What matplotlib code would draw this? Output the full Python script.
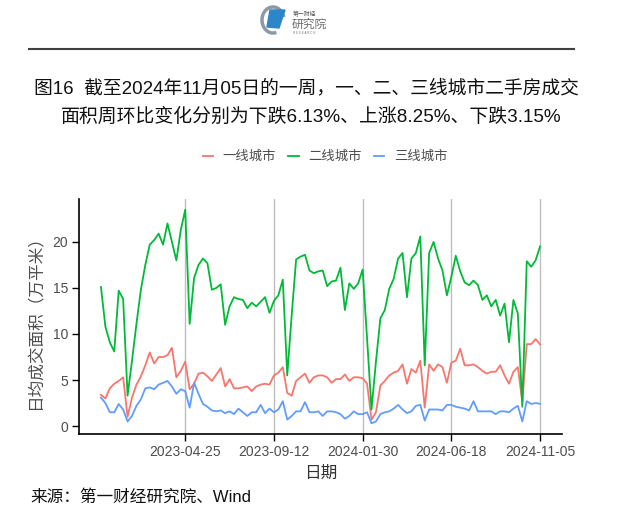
import pandas as pd
import matplotlib
matplotlib.use("Agg")
import matplotlib.pyplot as plt
from matplotlib.patches import Arc, Polygon

plt.rcParams['font.family'] = ['Liberation Sans', 'Noto Sans CJK SC', 'DejaVu Sans']

# weekly dates, 2022-12-13 .. 2024-11-05
dates = pd.date_range("2022-12-13", periods=100, freq="7D")

tier1 = [3.4, 3.0, 4.1, 4.6, 4.9, 5.3, 1.0, 3.1, 4.5, 5.4, 6.6, 8.0, 6.8, 7.5, 7.5, 7.7, 8.5, 5.3, 6.0, 7.0,
         4.0, 4.6, 5.7, 5.8, 5.4, 4.9, 5.6, 6.3, 4.3, 5.1, 4.1, 4.1, 4.2, 4.3, 3.8, 4.3, 4.5, 4.6, 4.5, 5.5,
         5.8, 6.4, 3.6, 3.3, 4.9, 5.3, 5.7, 4.7, 5.3, 5.5, 5.5, 5.3, 4.7, 5.1, 5.1, 5.6, 4.9, 5.3, 5.3, 5.2,
         4.6, 0.7, 1.5, 4.4, 4.9, 5.5, 5.8, 6.0, 6.7, 4.6, 6.2, 5.8, 7.1, 2.0, 6.7, 6.0, 6.7, 6.4, 4.7, 6.9,
         7.1, 8.4, 6.6, 6.6, 6.7, 6.4, 6.0, 5.7, 5.9, 5.9, 6.6, 5.5, 4.6, 5.9, 6.4, 2.6, 8.9, 8.9, 9.45, 8.87]

tier2 = [15.1, 10.8, 9.1, 8.1, 14.7, 13.8, 3.3, 7.1, 11.1, 14.8, 17.5, 19.7, 20.2, 20.9, 19.7, 22.0, 20.0, 18.0, 21.3, 23.5,
         11.1, 16.1, 17.5, 18.2, 17.7, 14.8, 15.0, 15.4, 11.0, 13.0, 14.0, 13.8, 13.7, 12.8, 13.4, 13.0, 13.5, 14.0, 12.3, 13.6,
         14.2, 15.9, 5.5, 12.0, 18.1, 18.4, 18.6, 16.9, 16.6, 16.8, 16.9, 15.2, 15.7, 15.8, 17.2, 12.6, 15.5, 14.9, 15.5, 17.0,
         9.5, 1.8, 7.0, 11.7, 12.6, 14.9, 16.0, 18.2, 18.8, 14.0, 18.2, 18.8, 20.6, 6.6, 18.8, 20.0, 18.2, 16.9, 14.2, 16.2,
         18.5, 16.8, 15.6, 15.3, 15.8, 15.3, 13.7, 14.2, 13.0, 13.7, 12.0, 13.3, 9.1, 13.7, 12.2, 2.1, 17.9, 17.3, 18.0, 19.5]

tier3 = [3.1, 2.5, 1.5, 1.5, 2.4, 1.8, 0.5, 1.1, 2.2, 2.9, 4.1, 4.2, 4.0, 4.5, 4.7, 4.9, 4.3, 3.5, 4.0, 3.8,
         2.0, 4.7, 3.5, 2.4, 2.1, 1.7, 1.6, 1.7, 1.4, 1.6, 1.3, 1.9, 1.5, 1.1, 1.5, 1.5, 2.3, 1.4, 1.9, 1.5,
         1.8, 2.7, 0.7, 1.1, 1.6, 1.6, 2.6, 1.5, 1.5, 1.6, 1.1, 1.6, 1.6, 1.5, 1.3, 0.8, 1.1, 1.6, 1.3, 1.3,
         1.5, 0.3, 0.5, 1.3, 1.5, 1.6, 1.9, 2.3, 1.8, 1.4, 1.6, 2.2, 2.3, 0.6, 1.8, 1.8, 1.8, 1.7, 2.3, 2.3,
         2.1, 2.0, 1.9, 1.7, 2.7, 1.6, 1.6, 1.6, 1.6, 1.3, 1.6, 1.6, 1.5, 1.9, 2.2, 0.5, 2.7, 2.4, 2.5, 2.42]

series_names = ["一线城市", "二线城市", "三线城市"]
series_colors = ["#F8766D", "#00BA38", "#619CFF"]

tick_dates = ["2023-04-25", "2023-09-12", "2024-01-30", "2024-06-18", "2024-11-05"]
y_ticks = [0, 5, 10, 15, 20]

title_1 = "图16  截至2024年11月05日的一周，一、二、三线城市二手房成交"
title_2 = "面积周环比变化分别为下跌6.13%、上涨8.25%、下跌3.15%"
source = "来源：第一财经研究院、Wind"

fig = plt.figure(figsize=(6.4, 5.16), dpi=100)

# background layer in pixel coordinates
bg = fig.add_axes([0, 0, 1, 1])
bg.set_xlim(0, 640)
bg.set_ylim(516, 0)
bg.axis("off")

# logo
bg.add_patch(Arc((273, 20), 22, 26, theta1=75, theta2=345, color="#8a9aa8", lw=2.5))
bg.add_patch(Polygon([[270, 10], [285, 10], [279, 28], [267, 27]], closed=True, color="#2d86c8"))
bg.text(293, 14, "第一财经", fontsize=4.2, color="#555555", va="center", ha="left")
bg.text(292, 25, "研究院", fontsize=8.5, color="#6a6a6a", va="center", ha="left")
bg.text(293, 33, "R E S E A R C H", fontsize=2.2, color="#777777", va="center", ha="left")

bg.plot([29, 574], [49, 49], color="#404040", lw=1.5)

bg.text(306, 88, title_1, fontsize=13.5, ha="center", va="center", color="#111111")
bg.text(311, 117, title_2, fontsize=13.6, ha="center", va="center", color="#111111")
bg.text(30, 497, source, fontsize=12, ha="left", va="center", color="#111111")

# main panel
ax = fig.add_axes([79 / 640, 1 - 434 / 516, (562 - 79) / 640, (434 - 199) / 516])
ax.patch.set_alpha(0)

for vals, name, col in zip([tier1, tier2, tier3], series_names, series_colors):
    ax.plot(dates, vals, color=col, lw=1.3, label=name)

ax.margins(x=0.05, y=0.05)

ax.set_xticks(pd.to_datetime(tick_dates))
ax.set_xticklabels(tick_dates)
ax.set_yticks(y_ticks)
ax.grid(axis="x", color="#BEBEBE", lw=1)
ax.set_axisbelow(True)

for s in ["top", "right"]:
    ax.spines[s].set_visible(False)
for s in ["left", "bottom"]:
    ax.spines[s].set_linewidth(1.2)
    ax.spines[s].set_color("black")

ax.tick_params(axis="both", length=5, width=1, color="black", labelsize=10,
               labelcolor="#4D4D4D", pad=3)

ax.set_ylabel("日均成交面积（万平米）", fontsize=12, color="#4D4D4D")
ax.yaxis.set_label_coords(-0.074, 0.49)
ax.set_xlabel("日期", fontsize=12, color="#333333")
ax.xaxis.set_label_coords(0.5, -0.166)
ax.xaxis.label.set_va("center")

ax.legend(loc="center", bbox_to_anchor=(325 / 640, 1 - 157 / 516), bbox_transform=fig.transFigure,
          ncol=3, frameon=False, handlelength=0.8, handletextpad=0.7, columnspacing=0.9,
          fontsize=9.6, labelcolor="#4D4D4D")

plt.savefig("out.png", dpi=100)
